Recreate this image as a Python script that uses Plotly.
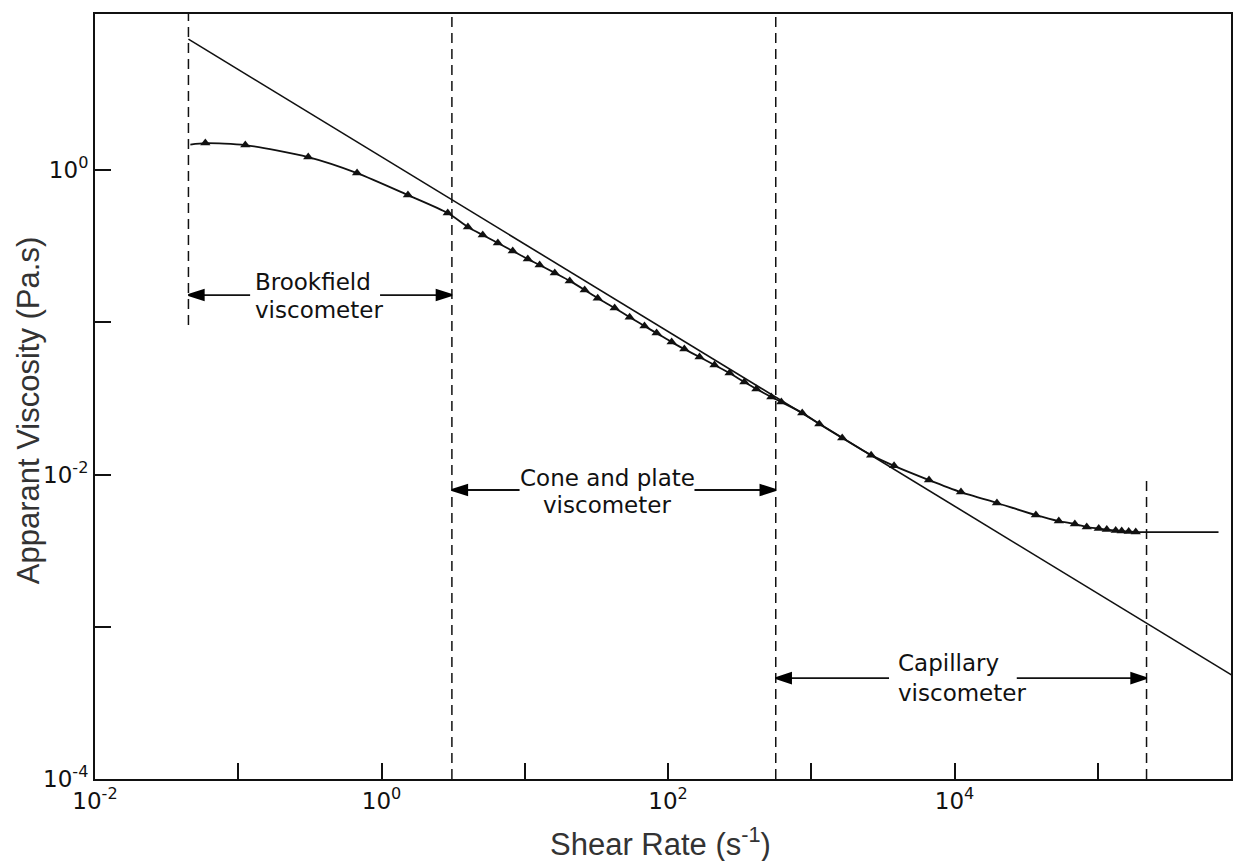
import numpy as np
import plotly.graph_objects as go

# ---------------- data ----------------
# measured apparent viscosity (triangles)
shear_rate = [0.0589, 0.112, 0.308, 0.675, 1.53, 2.90, 4.01, 5.09, 6.49, 8.24,
              10.5, 12.7, 16.2, 20.6, 26.2, 32.3, 42.4, 54.0, 68.5, 83.2,
              106, 130, 166, 211, 269, 341, 414, 526, 618, 865,
              1138, 1644, 2618, 3784, 6637, 11092, 19770, 36980, 53460, 69180,
              83750, 101600, 115600, 133400, 146900, 164400, 184100]
viscosity = [1.503, 1.459, 1.216, 0.955, 0.685, 0.522, 0.423, 0.374, 0.332, 0.294,
             0.260, 0.238, 0.211, 0.187, 0.163, 0.144, 0.124, 0.108, 0.0944, 0.0849,
             0.0741, 0.0667, 0.0591, 0.0524, 0.0464, 0.0405, 0.0365, 0.0323, 0.0299, 0.0254,
             0.0215, 0.0174, 0.0134, 0.0114, 0.00920, 0.00767, 0.00650, 0.00542, 0.00495, 0.00473,
             0.00452, 0.00442, 0.00435, 0.00429, 0.00425, 0.00422, 0.00419]

# ends of the smooth curve drawn through the data
curve_start = (0.0463, 1.47)
curve_end = (696600, 0.00419)

# power-law straight line (end points)
power_law_rate = [0.0449, 859000]
power_law_visc = [7.24, 0.000482]

# viscometer ranges (shear-rate boundaries)
brookfield_range = [0.0449, 3.1]
cone_plate_range = [3.1, 565]
capillary_range = [565, 2.19e5]

# axis ranges (log10) and ticks
x_range = [-2, 5.93]
y_range = [-4, 1.025]
x_major = [1e-2, 1e0, 1e2, 1e4]
x_major_text = ["10<sup>-2</sup>", "10<sup>0</sup>", "10<sup>2</sup>", "10<sup>4</sup>"]
x_minor = [1e-1, 1e1, 1e3, 1e5]
y_major = [1e-4, 1e-2, 1e0]
y_major_text = ["10<sup>-4</sup>", "10<sup>-2</sup>", "10<sup>0</sup>"]
y_minor = [1e-3, 1e-1]

# ---------------- figure ----------------
INK = "#111111"
TECH_FONT = "DejaVu Sans"
ytop = 10 ** y_range[1]
ybot = 10 ** y_range[0]

fig = go.Figure()

# smooth curve through the data
fig.add_trace(go.Scatter(
    x=[curve_start[0]] + shear_rate + [curve_end[0]],
    y=[curve_start[1]] + viscosity + [curve_end[1]],
    mode="lines", line=dict(color=INK, width=1.8, shape="spline", smoothing=0.7),
    hoverinfo="skip", showlegend=False))

# data triangles
fig.add_trace(go.Scatter(
    x=shear_rate, y=viscosity, mode="markers",
    marker=dict(symbol="triangle-up", size=9, color=INK),
    showlegend=False))

# power law line
fig.add_trace(go.Scatter(
    x=power_law_rate, y=power_law_visc, mode="lines",
    line=dict(color=INK, width=1.6), showlegend=False, hoverinfo="skip"))

# dashed vertical boundaries
dash_lines = [
    (brookfield_range[0], 0.096, ytop),
    (brookfield_range[1], ybot, ytop),
    (cone_plate_range[1], ybot, ytop),
    (capillary_range[1], ybot, 0.0099),
]
for xv, y0, y1 in dash_lines:
    fig.add_trace(go.Scatter(
        x=[xv, xv], y=[y0, y1], mode="lines",
        line=dict(color=INK, width=1.5, dash="10px,6px"),
        showlegend=False, hoverinfo="skip"))


def range_arrow(rng, y, gap_left, gap_right):
    """two arrows from the text gap out to the range boundaries"""
    for tail, head in [(gap_left, rng[0]), (gap_right, rng[1])]:
        fig.add_trace(go.Scatter(
            x=[tail, head], y=[y, y], mode="lines+markers",
            line=dict(color=INK, width=1.8),
            marker=dict(symbol="arrow", size=[0, 16], angleref="previous",
                        color="#000000", opacity=1,
                        line=dict(color="#000000", width=2)),
            showlegend=False, hoverinfo="skip"))


range_arrow(brookfield_range, 0.151, 0.121, 0.977)
range_arrow(cone_plate_range, 0.00791, 9.2, 153)
range_arrow(capillary_range, 0.00046, 3490, 27200)

annotations = []


def label(x, y, text, anchor):
    annotations.append(dict(x=np.log10(x), y=np.log10(y), xref="x", yref="y",
                            text=text, showarrow=False, xanchor=anchor,
                            yanchor="middle",
                            font=dict(family=TECH_FONT, size=23, color=INK)))


label(0.127, 0.184, "Brookfield", "left")
label(0.127, 0.120, "viscometer", "left")
label(37.8, 0.00948, "Cone and plate", "center")
label(37.8, 0.00631, "viscometer", "center")
label(3910, 0.000578, "Capillary", "left")
label(3910, 0.000367, "viscometer", "left")

# axis titles
annotations.append(dict(x=-0.059, y=0.482, xref="paper", yref="paper",
                        text="Apparant Viscosity (Pa.s)", textangle=-90, showarrow=False,
                        xanchor="center", yanchor="middle",
                        font=dict(family="Liberation Sans", size=31, color="#333333")))
annotations.append(dict(x=0.498, y=-0.0824, xref="paper", yref="paper",
                        text="Shear Rate (s<sup>-1</sup>)", showarrow=False,
                        xanchor="center", yanchor="middle",
                        font=dict(family="Liberation Sans", size=31, color="#333333")))

tick_style = dict(ticks="inside", ticklen=16, tickwidth=1.6, tickcolor=INK)
axis_common = dict(showgrid=False, zeroline=False, showline=True, linecolor=INK,
                   linewidth=2, mirror=True, tickmode="array",
                   tickfont=dict(family=TECH_FONT, size=23, color=INK), **tick_style)

fig.update_layout(
    width=1236, height=861,
    margin=dict(l=95, r=3, t=14, b=82),
    paper_bgcolor="white", plot_bgcolor="white",
    showlegend=False,
    xaxis=dict(type="log", range=x_range, tickvals=x_major, ticktext=x_major_text,
               minor=dict(tickmode="array", tickvals=x_minor, **tick_style),
               **axis_common),
    yaxis=dict(type="log", range=y_range, tickvals=y_major, ticktext=y_major_text,
               minor=dict(tickmode="array", tickvals=y_minor, **tick_style),
               **axis_common),
    annotations=annotations,
)

fig.write_html("out.html", config={"displayModeBar": False},
               post_script="document.body.style.margin='0';")
